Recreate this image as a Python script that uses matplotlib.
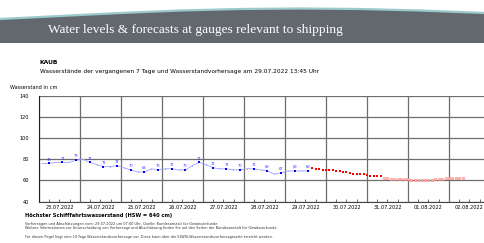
import matplotlib
matplotlib.use('Agg')
import matplotlib.pyplot as plt
import matplotlib.dates as mdates
import pandas as pd
from datetime import datetime


# measured values, labelled every 8 hours (cm)
obs_times = pd.date_range('2022-07-23 05:45', '2022-07-29 13:45', freq='8h').to_pydatetime()
obs_values = [76, 77, 79, 77, 73, 74, 70, 68, 70, 71,
              70, 77, 72, 71, 70, 71, 69, 67, 69, 69]

# measured values, thin line
line_times = pd.date_range('2022-07-23 01:45', '2022-07-29 13:45', freq='4h').to_pydatetime()
line_values = [76, 76, 77, 77, 77, 79,
               80, 77, 75, 73, 73, 74,
               72, 70, 68, 68, 71, 70,
               71, 71, 70, 70, 74, 77,
               75, 72, 71, 71, 70, 70,
               71, 71, 70, 69, 66, 67,
               69, 69, 69, 69]

# forecast (Vorhersage)
fc_times = pd.date_range('2022-07-29 16:00', '2022-07-31 08:00', freq='2h').to_pydatetime()
fc_values = [72, 71, 71, 70, 70, 70, 70, 69, 69, 68, 68,
             67, 66, 66, 66, 66, 65, 64, 64, 64, 64]

# estimate (Abschaetzung)
est_times = pd.date_range('2022-07-31 10:00', '2022-08-02 08:00', freq='2h').to_pydatetime()
est_values = [62, 62, 61, 61, 61, 61, 61, 61, 60, 60, 60, 60,
              60, 60, 60, 61, 61, 61, 62, 62, 62, 62, 62, 62]

y_ticks = [40, 60, 80, 100, 120, 140]

W, H = 485, 243
fig = plt.figure(figsize=(W / 100, H / 100), dpi=100)
fig.patch.set_facecolor('white')

# page overlay in pixel coordinates
bg = fig.add_axes([0, 0, 1, 1])
bg.set_xlim(0, W)
bg.set_ylim(H, 0)
bg.axis('off')

curve_x = [0, 60, 120, 180, 240, 300, 360, 420, 485]
curve_y = [19, 16, 13, 10.5, 9, 8.5, 9, 10.5, 13]
bg.fill(curve_x + [485, 0], curve_y + [43, 43], color='#63686e', lw=0)
bg.plot(curve_x, curve_y, color='#9cc9cb', lw=1.6, solid_capstyle='butt')
bg.text(48, 32.5, 'Water levels & forecasts at gauges relevant to shipping',
        family='Liberation Serif', fontsize=9.6, color='white', va='baseline')

bg.text(40, 62, 'KAUB', fontsize=4.3, fontweight='bold', va='center')
bg.text(40, 71.5, 'Wasserstände der vergangenen 7 Tage und Wasserstandvorhersage am 29.07.2022 13:45 Uhr',
        fontsize=4.2, va='center')
bg.text(10, 87.5, 'Wasserstand in cm', fontsize=3.6, va='center')

bg.text(25, 215, 'Höchster Schifffahrtswasserstand (HSW = 640 cm)',
        fontsize=3.7, fontweight='bold', va='center')
bg.text(25, 223.5, 'Vorhersagen und Abschätzungen vom: 29.07.2022 um 07:00 Uhr, Quelle: Bundesanstalt für Gewässerkunde',
        fontsize=2.5, va='center', color='#333333')
bg.text(25, 227.5, 'Weitere Informationen zur Unterscheidung von Vorhersage und Abschätzung finden Sie auf den Seiten der Bundesanstalt für Gewässerkunde',
        fontsize=2.5, va='center', color='#333333')
bg.text(25, 236.5, 'Für diesen Pegel liegt eine 10-Tage Wasserstandsvorhersage vor. Diese kann über die ELWIS-Wasserstandsvorhersageseite erreicht werden.',
        fontsize=2.5, va='center', color='#333333')

# chart
ax = fig.add_axes([39 / W, 1 - 201.7 / H, 451 / W, 106.2 / H])
ax.set_facecolor('none')

ax.plot(line_times, line_values, color='#a0a0ff', lw=0.6, marker='s', markersize=0.7,
        markeredgewidth=0, zorder=3)
ax.plot(obs_times, obs_values, ls='none', marker='s', markersize=2.0, color='#0000ff',
        markeredgewidth=0, zorder=4)
for t, v in zip(obs_times, obs_values):
    ax.annotate(str(v), (t, v), xytext=(0, 1.3), textcoords='offset points',
                ha='center', va='bottom', fontsize=2.6, color='#3333ff', zorder=5)

ax.plot(fc_times, fc_values, ls='none', marker='s', markersize=1.9, color='#ff0000',
        markeredgewidth=0, zorder=4)
ax.plot(est_times, est_values, ls='none', marker='s', markersize=1.9,
        markerfacecolor='#ffbcbc', markeredgecolor='#ff8080', markeredgewidth=0.4, zorder=4)

ax.set_xlim(datetime(2022, 7, 23), datetime(2022, 8, 3))
ax.set_ylim(40, 140)
ax.set_yticks(y_ticks)
ax.set_yticklabels([str(v) for v in y_ticks])

ax.xaxis.set_major_locator(mdates.DayLocator())
ax.xaxis.set_major_formatter(plt.NullFormatter())
ax.xaxis.set_minor_locator(mdates.HourLocator(byhour=[6, 12, 18]))
ax.xaxis.set_minor_formatter(plt.FuncFormatter(
    lambda x, _: mdates.num2date(x).strftime('%d.%m.%Y') if mdates.num2date(x).hour == 12 else ''))

ax.tick_params(axis='x', which='major', length=0)
ax.tick_params(axis='x', which='minor', length=2, width=0.5, direction='in',
               labelsize=3.6, pad=2.5, color='#333333')
ax.tick_params(axis='y', length=0, labelsize=3.6, pad=7)

ax.grid(True, which='major', axis='both', color='#6e6e6e', lw=0.9)
ax.set_axisbelow(True)
for s in ['top', 'right']:
    ax.spines[s].set_visible(False)
ax.spines['left'].set_color('#222222')
ax.spines['left'].set_linewidth(0.8)
ax.spines['bottom'].set_color('#444444')
ax.spines['bottom'].set_linewidth(0.8)

fig.savefig('out.png', dpi=100)
